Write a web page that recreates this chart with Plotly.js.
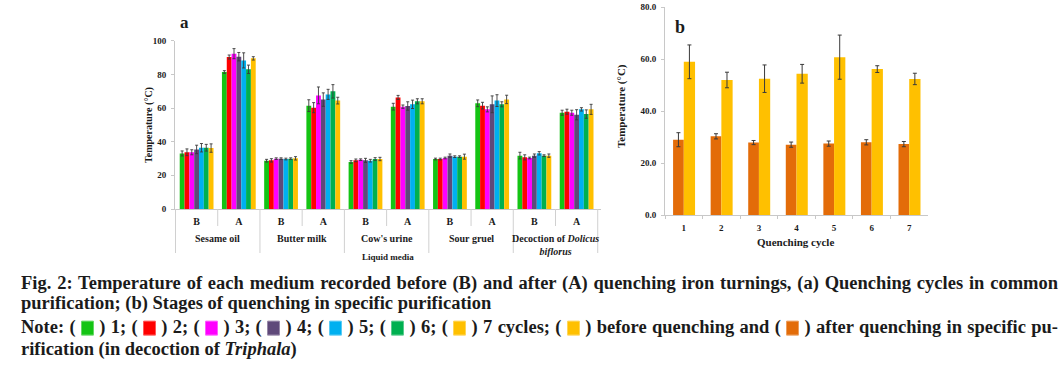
<!DOCTYPE html>
<html>
<head>
<meta charset="utf-8">
<script src="https://cdn.plot.ly/plotly-3.0.1.min.js"></script>
<style>
  html, body { margin:0; padding:0; background:#fff; width:1064px; height:366px; overflow:hidden; }
  #chart { position:absolute; left:0; top:0; width:1064px; height:262px; }
  .cap { position:absolute; left:21px; width:1037px; height:22px; line-height:22px;
         font-family:"Liberation Serif","Times New Roman",serif; font-weight:bold; font-size:18.5px;
         color:#1b1b1b; white-space:nowrap; transform:scaleY(1.06); transform-origin:50% 50%; }
  .just { text-align:justify; text-align-last:justify; }
  .sw { display:inline-block; width:13px; height:14px; vertical-align:-2px; border-radius:1px; margin:0; }
</style>
</head>
<body>
<div id="chart"></div>
<div id="caption"></div>
<script>
// ---------- Data: chart (a) ----------
const media = ["Sesame oil", "Butter milk", "Cow's urine", "Sour gruel", "Decoction of <i>Dolicus</i><br><i>biflorus</i>"];
const stages = ["B", "A"];
const cycleNames = ["1", "2", "3", "4", "5", "6", "7"];
const cycleColors = ["#14C414", "#FF0000", "#FF00FF", "#5F497A", "#00B0F0", "#00B050", "#FFC000"];

const cycle1 = [33.0, 81.4, 28.7, 61.4, 27.9, 60.8, 29.7, 62.8, 31.7, 57.2];
const cycle2 = [33.7, 90.3, 28.9, 60.2, 28.9, 66.3, 29.7, 61.4, 30.7, 57.8];
const cycle3 = [33.7, 92.3, 29.9, 67.5, 29.3, 60.8, 30.3, 59.2, 30.3, 57.2];
const cycle4 = [35.4, 90.5, 29.9, 65.0, 28.9, 61.2, 31.7, 62.2, 31.7, 56.0];
const cycle5 = [36.4, 88.3, 29.7, 68.1, 28.7, 62.2, 31.1, 64.4, 33.1, 59.2];
const cycle6 = [36.4, 83.0, 29.9, 69.9, 29.7, 64.0, 31.1, 62.2, 31.7, 56.4];
const cycle7 = [36.2, 89.5, 30.1, 64.4, 29.7, 64.0, 31.1, 65.1, 31.7, 59.2];

const err1 = [1.5, 0.8, 0.8, 3.5, 0.8, 2.0, 0.5, 2.0, 2.0, 1.5];
const err2 = [2.0, 1.2, 1.0, 3.0, 0.8, 1.2, 0.5, 2.0, 1.5, 1.5];
const err3 = [1.5, 3.0, 0.5, 5.0, 0.5, 1.0, 0.5, 1.5, 0.5, 1.5];
const err4 = [2.5, 2.5, 0.5, 4.0, 1.2, 2.5, 1.0, 5.0, 1.0, 3.0];
const err5 = [2.5, 4.5, 0.5, 3.0, 0.8, 2.5, 0.5, 3.5, 1.0, 1.0];
const err6 = [2.0, 2.5, 0.5, 4.0, 0.8, 1.5, 0.5, 1.5, 0.5, 2.5];
const err7 = [2.5, 1.0, 1.0, 2.0, 1.0, 1.5, 1.5, 2.5, 1.0, 3.0];

// ---------- Data: chart (b) ----------
const quenchCycles = ["1", "2", "3", "4", "5", "6", "7"];
const afterQuench = [29.0, 30.3, 27.9, 27.1, 27.5, 28.0, 27.3];
const afterErr = [2.7, 1.0, 0.8, 1.0, 1.0, 1.0, 1.0];
const beforeQuench = [59.0, 52.0, 52.5, 54.4, 60.8, 56.2, 52.4];
const beforeErr = [6.5, 3.0, 5.3, 3.6, 8.5, 1.3, 2.2];
const afterColor = "#E36C09";
const beforeColor = "#FFC000";

// ---------- Layout helpers ----------
const W = 1064, H = 262;
const px = x => x / W;
const py = y => 1 - y / H;
const FONT = "Liberation Serif, Times New Roman, serif";
const INK = "#1b1b1b";
const GRID = "#C8C8C8";

const cycleSeries = [cycle1, cycle2, cycle3, cycle4, cycle5, cycle6, cycle7];
const cycleErrs = [err1, err2, err3, err4, err5, err6, err7];

// category keys for chart a
const catKeys = [];
const catLabels = [];
media.forEach((m, i) => stages.forEach(s => { catKeys.push(i + "|" + s); catLabels.push(s); }));

const traces = [];
cycleSeries.forEach((vals, k) => {
  traces.push({
    type: "bar", x: catKeys, y: vals, name: cycleNames[k],
    xaxis: "x", yaxis: "y",
    marker: { color: cycleColors[k], line: { width: 0 } },
    error_y: { type: "data", array: cycleErrs[k], visible: true, color: "#3a3a3a", thickness: 0.9, width: 1.5 },
    hoverinfo: "skip"
  });
});
traces.push({
  type: "bar", x: quenchCycles, y: afterQuench, name: "after",
  xaxis: "x2", yaxis: "y2", offset: -0.285, width: 0.285,
  marker: { color: afterColor },
  error_y: { type: "data", array: afterErr, visible: true, color: "#3a3a3a", thickness: 1, width: 2 },
  hoverinfo: "skip"
});
traces.push({
  type: "bar", x: quenchCycles, y: beforeQuench, name: "before",
  xaxis: "x2", yaxis: "y2", offset: 0, width: 0.3,
  marker: { color: beforeColor },
  error_y: { type: "data", array: beforeErr, visible: true, color: "#3a3a3a", thickness: 1, width: 2 },
  hoverinfo: "skip"
});

const shapes = [];
// medium dividers (long) and stage dividers (short) for chart a
for (let b = 0; b <= catKeys.length; b++) {
  const isMedium = (b % 2 === 0);
  shapes.push({
    type: "line", xref: "x", yref: "paper",
    x0: b - 0.5, x1: b - 0.5, y0: py(209), y1: py(isMedium ? 253 : 226),
    line: { color: "#D0D0D0", width: 1 }
  });
}

const ann = (o) => Object.assign({ showarrow: false, xanchor: "center", yanchor: "middle", xref: "paper", yref: "paper" }, o);
const annotations = [];
media.forEach((m, i) => {
  annotations.push(ann({
    xref: "x", x: 2 * i + 0.5, y: py(231), yanchor: "top",
    text: m, align: "center",
    font: { family: FONT, size: 10, color: INK, weight: "bold" }
  }));
});
annotations.push(
  ann({ x: px(388), y: py(257), text: "Liquid media",
    font: { family: FONT, size: 9, color: INK, weight: "bold" } }),
  ann({ x: px(149), y: py(125), text: "Temperature (°C)", textangle: -90,
    font: { family: FONT, size: 10, color: INK, weight: "bold" } }),
  ann({ x: px(184), y: py(22), text: "a",
    font: { family: FONT, size: 17, color: INK, weight: "bold" } }),
  ann({ x: px(621), y: py(106), text: "Temperature (°C)", textangle: -90,
    font: { family: FONT, size: 11, color: INK, weight: "bold" } }),
  ann({ x: px(680), y: py(27), text: "b",
    font: { family: FONT, size: 18, color: INK, weight: "bold" } }),
  ann({ x: px(795), y: py(242), text: "Quenching cycle",
    font: { family: FONT, size: 11, color: INK, weight: "bold" } })
);

const tickFont = { family: FONT, size: 9, color: INK, weight: "bold" };

const layout = {
  width: W, height: H,
  margin: { l: 0, r: 0, t: 0, b: 0, pad: 0 },
  paper_bgcolor: "#fff", plot_bgcolor: "rgba(0,0,0,0)",
  showlegend: false,
  barmode: "group", bargap: 0.2, bargroupgap: 0,
  xaxis: {
    domain: [px(175), px(601)], type: "category", categoryorder: "array", categoryarray: catKeys,
    tickvals: catKeys, ticktext: catLabels, ticks: "", showline: true, linecolor: GRID, linewidth: 1,
    showgrid: false, zeroline: false, tickfont: { family: FONT, size: 10, color: INK, weight: "bold" },
    ticklabelstandoff: 3, fixedrange: true
  },
  yaxis: {
    domain: [py(209), py(40.7)], range: [0, 100], dtick: 20, ticks: "outside", ticklen: 3, tickcolor: GRID,
    showline: true, linecolor: GRID, showgrid: false, zeroline: false, tickfont: tickFont,
    ticklabelstandoff: 3, fixedrange: true
  },
  xaxis2: {
    domain: [px(665), px(928)], type: "category", anchor: "y2",
    ticks: "outside", tickson: "boundaries", ticklen: 3, tickcolor: GRID,
    showline: true, linecolor: GRID, showgrid: false, zeroline: false, tickfont: tickFont,
    ticklabelstandoff: 4, fixedrange: true
  },
  yaxis2: {
    domain: [py(215), py(7.3)], range: [0, 80], dtick: 20, tickformat: ".1f", anchor: "x2",
    ticks: "outside", ticklen: 3, tickcolor: GRID,
    showline: true, linecolor: GRID, showgrid: false, zeroline: false, tickfont: tickFont,
    ticklabelstandoff: 3, fixedrange: true
  },
  shapes: shapes,
  annotations: annotations
};

Plotly.newPlot("chart", traces, layout, { staticPlot: true, displayModeBar: false });

// ---------- Caption ----------
const captionLine1 = "Fig. 2: Temperature of each medium recorded before (B) and after (A) quenching iron turnings, (a) Quenching cycles in common";
const captionLine2 = "purification; (b) Stages of quenching in specific purification";
const captionLine4 = "rification (in decoction of <i>Triphala</i>)";
const sw = c => '<span class="sw" style="background:' + c + ';box-shadow:inset 0 0 0 1px rgba(255,255,255,0.35)"></span>';
let note = "Note: ";
cycleNames.forEach((n, k) => {
  note += "(&nbsp;" + sw(cycleColors[k]) + "&nbsp;) " + n + (k < cycleNames.length - 1 ? "; " : " cycles; ");
});
note += "(&nbsp;" + sw(beforeColor) + "&nbsp;) before quenching and (&nbsp;" + sw(afterColor) + "&nbsp;) after quenching in specific pu-";

const cap = document.getElementById("caption");
const lines = [
  { html: captionLine1, top: 272, just: true },
  { html: captionLine2, top: 292, just: false },
  { html: note, top: 316, just: true },
  { html: captionLine4, top: 338, just: false }
];
lines.forEach(l => {
  const d = document.createElement("div");
  d.className = "cap" + (l.just ? " just" : "");
  d.style.top = l.top + "px";
  d.innerHTML = l.html;
  cap.appendChild(d);
});
</script>
</body>
</html>
